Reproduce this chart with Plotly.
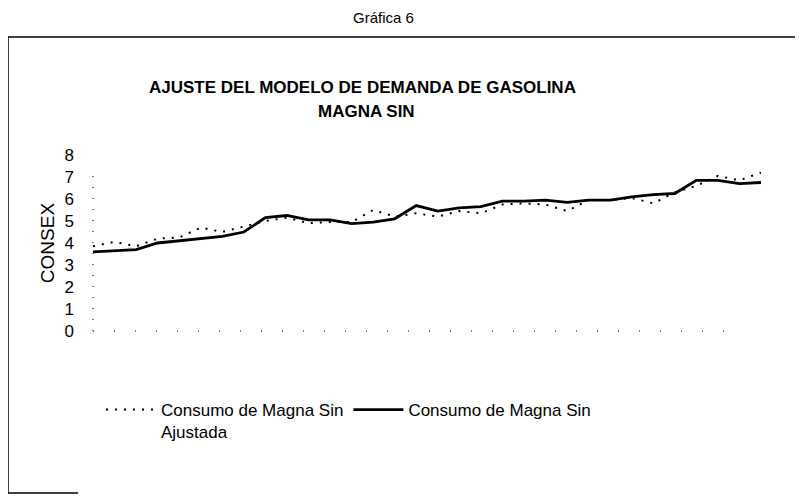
import plotly.graph_objects as go

periods = list(range(32))
consumo = [3.60, 3.65, 3.70, 4.00, 4.10, 4.20, 4.30, 4.50, 5.15, 5.25, 5.05, 5.05,
           4.88, 4.95, 5.10, 5.70, 5.45, 5.60, 5.65, 5.90, 5.90, 5.95, 5.85, 5.95,
           5.95, 6.10, 6.20, 6.25, 6.85, 6.85, 6.70, 6.75]
ajustada = [3.85, 4.05, 3.85, 4.20, 4.25, 4.70, 4.50, 4.75, 5.00, 5.15, 4.90, 4.95,
            4.95, 5.50, 5.20, 5.35, 5.20, 5.45, 5.35, 5.75, 5.80, 5.75, 5.45, 5.95,
            5.95, 6.05, 5.80, 6.30, 6.60, 7.05, 6.85, 7.20]
y_ticks = [0, 1, 2, 3, 4, 5, 6, 7, 8]

W, H = 803, 497
OFF = 8  # page body offset
FONT = "Liberation Sans, Arial, sans-serif"

def px(x):
    return (x - OFF) / W

def py(y):
    return 1 - (y - OFF) / H

fig = go.Figure()
fig.add_trace(go.Scatter(
    x=periods, y=ajustada, mode="lines",
    name="Consumo de Magna Sin<br>Ajustada",
    line=dict(color="black", width=2, dash="2px,7px"),
))
fig.add_trace(go.Scatter(
    x=periods, y=consumo, mode="lines",
    name="Consumo de Magna Sin",
    line=dict(color="black", width=2.8),
))

frame = dict(color="black", width=1.5)

fig.update_layout(
    width=W, height=H, autosize=False,
    margin=dict(l=0, r=0, t=0, b=0, pad=0, autoexpand=False),
    paper_bgcolor="white", plot_bgcolor="white",
    showlegend=True,
    legend=dict(
        orientation="h", x=px(101), y=py(392), xanchor="left", yanchor="top",
        font=dict(family=FONT, size=17, color="black"),
        valign="top", itemwidth=50, tracegroupgap=0,
        bgcolor="rgba(0,0,0,0)",
    ),
    xaxis=dict(
        domain=[px(93), px(761)], range=[0, 31], automargin=False,
        showgrid=False, zeroline=False, showline=False, showticklabels=False, ticks="",
    ),
    yaxis=dict(
        domain=[py(331), py(155)], range=[0, 8], automargin=False,
        tickvals=y_ticks, ticktext=[str(v) for v in y_ticks],
        showgrid=False, zeroline=False, showline=False, ticks="",
        ticklabelstandoff=18,
        tickfont=dict(family=FONT, size=17, color="black"),
        title=dict(text="CONSEX", font=dict(family=FONT, size=19, color="black"), standoff=4),
    ),
    shapes=[
        dict(type="line", xref="paper", yref="paper", x0=px(8), x1=px(830), y0=py(37), y1=py(37), line=frame),
        dict(type="line", xref="paper", yref="paper", x0=px(8), x1=px(8), y0=py(493), y1=py(37), line=frame),
        dict(type="line", xref="paper", yref="paper", x0=px(8), x1=px(78), y0=py(493), y1=py(493), line=frame),
        dict(type="line", xref="paper", yref="paper", x0=px(93), x1=px(740), y0=py(331), y1=py(331),
             line=dict(color="#555", width=1.5, dash="1px,20px")),
        dict(type="line", xref="paper", yref="paper", x0=px(93), x1=px(93), y0=py(331), y1=py(170),
             line=dict(color="#555", width=1.5, dash="1px,10px")),
    ],
    annotations=[
        dict(text="Gráfica 6", xref="paper", yref="paper", x=px(383), y=py(17),
             xanchor="center", yanchor="middle",
             showarrow=False, font=dict(family=FONT, size=15, color="black")),
        dict(text="<b>AJUSTE DEL MODELO DE DEMANDA DE GASOLINA</b>", xref="paper", yref="paper",
             x=px(362), y=py(88), xanchor="center", yanchor="middle",
             showarrow=False, font=dict(family=FONT, size=17, color="black")),
        dict(text="<b>MAGNA SIN</b>", xref="paper", yref="paper",
             x=px(366), y=py(111), xanchor="center", yanchor="middle",
             showarrow=False, font=dict(family=FONT, size=17, color="black")),
    ],
)

fig.write_html("out.html")
